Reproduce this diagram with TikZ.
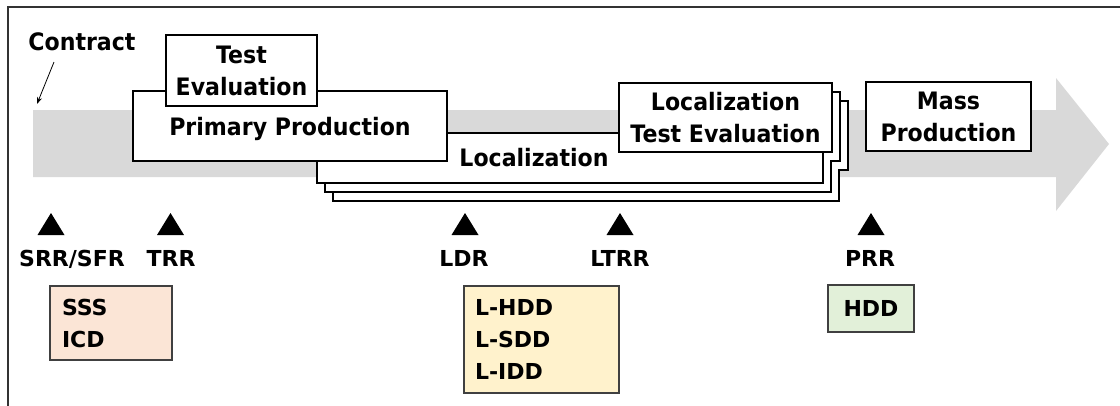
\documentclass[tikz,border=0pt]{standalone}
\usepackage{fontspec}
\setmainfont{DejaVu Sans}
\newfontfamily\phasefont{DejaVu Sans}[FakeStretch=0.92]
\usetikzlibrary{arrows.meta}
\definecolor{arrowgray}{HTML}{D9D9D9}
\definecolor{docpeach}{HTML}{FBE5D6}
\definecolor{docyellow}{HTML}{FFF2CC}
\definecolor{docgreen}{HTML}{E2F0D9}
\begin{document}
\begin{tikzpicture}[x=1pt,y=-1pt,
  mainfont/.style={font=\phasefont\bfseries\fontsize{24}{32}\selectfont},
  phasebox/.style={draw=black, line width=1.3pt, fill=white, inner sep=0pt, align=center, mainfont},
  phaselbl/.style={inner sep=0pt, mainfont},
  mslbl/.style={inner sep=0pt, anchor=base, font=\bfseries\fontsize{22}{26}\selectfont},
  docbox/.style={draw=black!75, line width=1.3pt, inner sep=0pt, align=left,
    font=\bfseries\fontsize{22}{32}\selectfont},
  stackline/.style={line width=1.3pt, fill=white},
  mstone/.pic={\fill[black] (-13.5,11) -- (13.5,11) -- (0,-11) -- cycle;}]
\useasboundingbox (0,0) rectangle (1120,405);
% frame
\draw[line width=1.3pt, black!80] (8,412) -- (8,7) -- (1125,7);
% big grey arrow
\fill[arrowgray] (33,110) -- (1056,110) -- (1056,78) -- (1109,144) -- (1056,211) -- (1056,177) -- (33,177) -- cycle;
% contract
\node[phaselbl, anchor=base] (contract) at (82,50) {Contract};
\coordinate (cstart) at (54,62);
\coordinate (cend) at (37,104);
\draw[line width=0.8pt, -{Stealth[length=7pt,width=5pt]}] (cstart) -- (cend);
% localization stack (back layers)
\begin{scope}[shift={(16,18)}]
  \draw[stackline] (317,133) -- (619,133) -- (619,83) -- (832,83) -- (832,152) -- (823,152) -- (823,183) -- (317,183) -- cycle;
\end{scope}
\begin{scope}[shift={(8,9)}]
  \draw[stackline] (317,133) -- (619,133) -- (619,83) -- (832,83) -- (832,152) -- (823,152) -- (823,183) -- (317,183) -- cycle;
\end{scope}
% front layer
\node[phasebox, minimum width=506pt, minimum height=50pt] (loc) at (570,158) {};
\node[phaselbl, anchor=base] (locl) at (534,166) {Localization};
\node[phasebox, minimum width=213pt, minimum height=69pt] (lte) at (725.5,117.5) {Localization\\Test Evaluation};
% primary production and test evaluation
\node[phasebox, minimum width=314pt, minimum height=70pt, text depth=0pt] (pp) at (290,126) {Primary Production};
\node[phasebox, minimum width=151pt, minimum height=71pt] (te) at (241.5,70.5) {Test\\Evaluation};
% mass production
\node[phasebox, minimum width=165pt, minimum height=69pt] (mp) at (948.5,116.5) {Mass\\Production};
% milestones
\pic at (51,224) {mstone};
\pic at (170.5,224) {mstone};
\pic at (465,224) {mstone};
\pic at (620,224) {mstone};
\pic at (871,224) {mstone};
\node[mslbl] (srr) at (72,266) {SRR/SFR};
\node[mslbl] (trr) at (171,266) {TRR};
\node[mslbl] (ldr) at (464,266) {LDR};
\node[mslbl] (ltrr) at (620,266) {LTRR};
\node[mslbl] (prr) at (870,266) {PRR};
% documents
\node[docbox, fill=docpeach, text width=98pt, inner xsep=12pt, minimum height=74pt] (sss) at (111,323) {SSS\\ICD};
\node[docbox, fill=docyellow, text width=133pt, inner xsep=11pt, minimum height=107pt] (ldd) at (541.5,339.5) {L-HDD\\L-SDD\\L-IDD};
\node[docbox, fill=docgreen, align=center, minimum width=86pt, minimum height=47pt] (hdd) at (871,308.5) {HDD};
\end{tikzpicture}
\end{document}
